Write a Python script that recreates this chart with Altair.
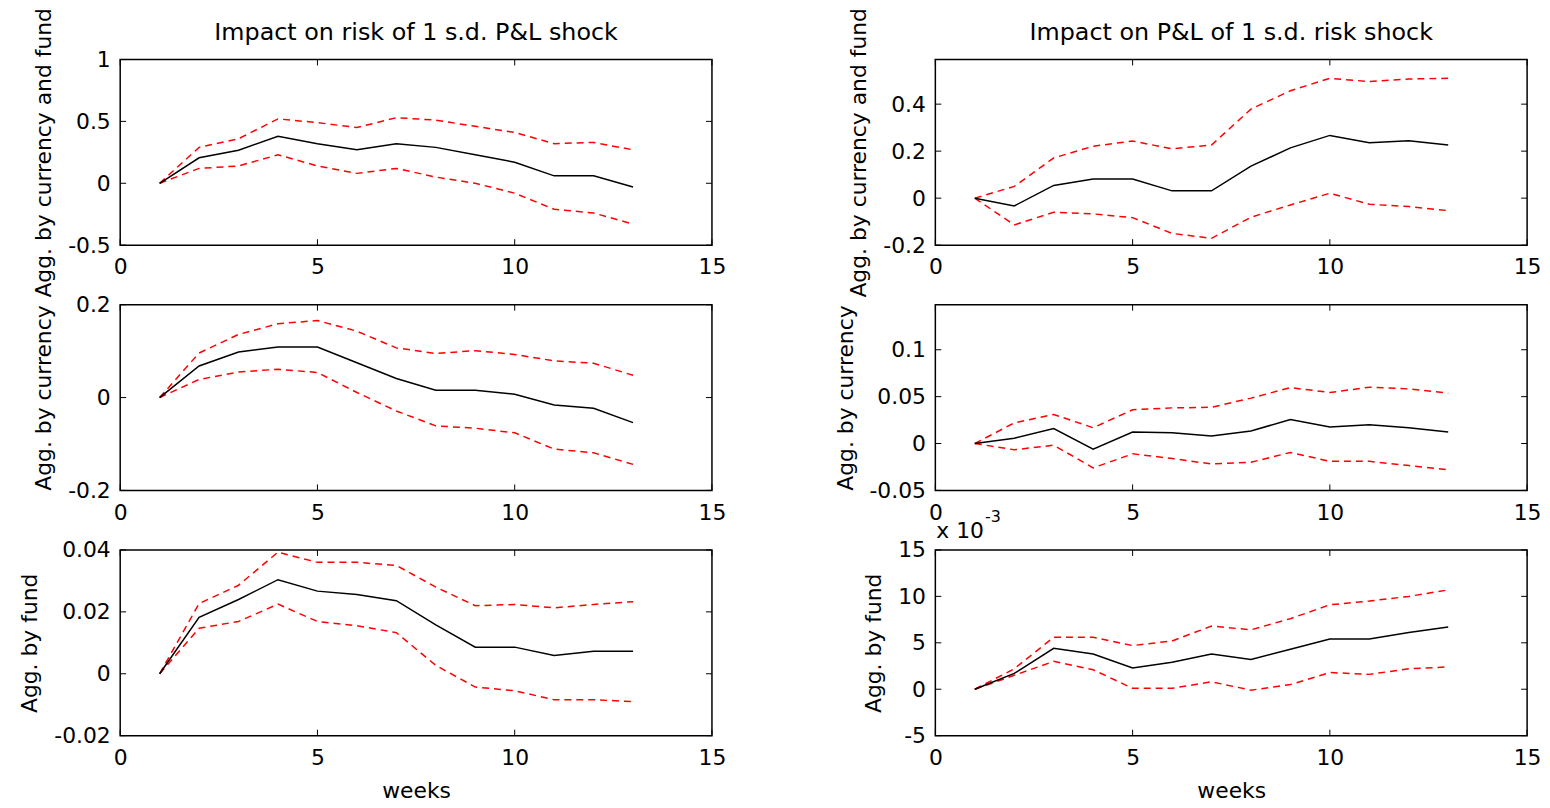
import altair as alt
import pandas as pd

weeks = list(range(1, 14))
x_ticks = [0, 5, 10, 15]

# Left column: Impact on risk of 1 s.d. P&L shock
l1_est = [0, 0.206, 0.267, 0.38, 0.32, 0.27, 0.32, 0.29, 0.23, 0.17, 0.06, 0.06, -0.03]
l1_up = [0, 0.29, 0.36, 0.52, 0.49, 0.45, 0.53, 0.51, 0.46, 0.41, 0.32, 0.33, 0.27]
l1_lo = [0, 0.12, 0.14, 0.23, 0.14, 0.08, 0.12, 0.05, 0.0, -0.08, -0.21, -0.24, -0.33]

l2_est = [0, 0.068, 0.098, 0.109, 0.109, 0.075, 0.041, 0.016, 0.016, 0.007, -0.016, -0.023, -0.054]
l2_up = [0, 0.096, 0.136, 0.159, 0.166, 0.143, 0.107, 0.095, 0.101, 0.093, 0.079, 0.074, 0.048]
l2_lo = [0, 0.039, 0.055, 0.061, 0.054, 0.011, -0.029, -0.061, -0.066, -0.076, -0.111, -0.119, -0.144]

l3_est = [0, 0.0182, 0.024, 0.0304, 0.0267, 0.0256, 0.0236, 0.0158, 0.0086, 0.0086, 0.0059, 0.0073, 0.0073]
l3_up = [0, 0.0227, 0.0286, 0.0393, 0.036, 0.036, 0.035, 0.028, 0.022, 0.0224, 0.0213, 0.0224, 0.0233]
l3_lo = [0, 0.0147, 0.0169, 0.0225, 0.0169, 0.0155, 0.0133, 0.0027, -0.0043, -0.0055, -0.0084, -0.0084, -0.009]

# Right column: Impact on P&L of 1 s.d. risk shock
r1_est = [0, -0.033, 0.054, 0.081, 0.081, 0.031, 0.031, 0.136, 0.214, 0.267, 0.236, 0.244, 0.226]
r1_up = [0, 0.05, 0.171, 0.221, 0.243, 0.21, 0.226, 0.379, 0.457, 0.51, 0.496, 0.507, 0.51]
r1_lo = [0, -0.114, -0.06, -0.067, -0.083, -0.15, -0.171, -0.081, -0.029, 0.021, -0.026, -0.036, -0.053]

r2_est = [0, 0.0056, 0.016, -0.006, 0.0123, 0.0116, 0.008, 0.0133, 0.0256, 0.0175, 0.020, 0.0168, 0.0123]
r2_up = [0, 0.022, 0.031, 0.0168, 0.036, 0.038, 0.0386, 0.0484, 0.0596, 0.0544, 0.060, 0.0582, 0.0537]
r2_lo = [0, -0.0067, -0.0018, -0.026, -0.011, -0.016, -0.0218, -0.020, -0.0095, -0.019, -0.019, -0.0235, -0.028]

# values in units of 1e-3
r3_est = [0, 1.7, 4.4, 3.8, 2.3, 2.9, 3.8, 3.2, 4.3, 5.4, 5.4, 6.1, 6.7]
r3_up = [0, 2.2, 5.6, 5.6, 4.7, 5.2, 6.8, 6.4, 7.6, 9.1, 9.5, 10.0, 10.7]
r3_lo = [0, 1.5, 3.0, 2.1, 0.1, 0.1, 0.8, -0.1, 0.5, 1.8, 1.6, 2.2, 2.4]

titles = ["Impact on risk of 1 s.d. P&L shock", "Impact on P&L of 1 s.d. risk shock"]
row_titles = ["Agg. by currency and fund", "Agg. by currency", "Agg. by fund"]

W = 596
H = 187
TL = 6
FONT = "DejaVu Sans"


def label(text, x, y, size, align="left"):
    return alt.Chart(pd.DataFrame({"t": [text]})).mark_text(
        align=align, baseline="alphabetic", font=FONT, fontSize=size, color="black"
    ).encode(text="t:N", x=alt.value(x), y=alt.value(y))


def panel(est, up, lo, ydom, yticks, ytitle, title=None, xtitle=None, scale_note=False):
    n = len(weeks)
    df = pd.DataFrame({
        "week": weeks * 3,
        "value": est + up + lo,
        "series": ["est"] * n + ["upper"] * n + ["lower"] * n,
    })
    xs = alt.Scale(domain=[0, 15], nice=False, zero=False)
    ys = alt.Scale(domain=ydom, nice=False, zero=False)
    xax = alt.Axis(values=x_ticks, title=xtitle if xtitle else None, titlePadding=12, labelPadding=12)
    yax = alt.Axis(values=yticks, title=ytitle, titlePadding=12, labelPadding=10)
    x = alt.X("week:Q", scale=xs, axis=xax)
    y = alt.Y("value:Q", scale=ys, axis=yax)
    base = alt.Chart(df)
    bands = base.transform_filter("datum.series != 'est'").mark_line(
        color="#ff0000", strokeDash=[7, 5], strokeWidth=1.5, clip=True
    ).encode(x=x, y=y, detail="series:N")
    line = base.transform_filter("datum.series == 'est'").mark_line(
        color="black", strokeWidth=1.5, clip=True
    ).encode(x=x, y=y)

    xt = pd.DataFrame({"week": x_ticks})
    yt = pd.DataFrame({"value": yticks})
    xb = alt.Chart(xt).mark_rule(color="black", strokeWidth=1).encode(
        x=x, y=alt.value(H - TL), y2=alt.value(H))
    xtop = alt.Chart(xt).mark_rule(color="black", strokeWidth=1).encode(
        x=x, y=alt.value(0), y2=alt.value(TL))
    yl = alt.Chart(yt).mark_rule(color="black", strokeWidth=1).encode(
        y=y, x=alt.value(0), x2=alt.value(TL))
    yr = alt.Chart(yt).mark_rule(color="black", strokeWidth=1).encode(
        y=y, x=alt.value(W - TL), x2=alt.value(W))

    layers = [bands, line, xb, xtop, yl, yr]
    if title:
        layers.append(label(title, W / 2, -20, 24, align="center"))
    if scale_note:
        layers += [label("x 10", 1, -12, 22), label("-3", 50, -28, 16)]
    return alt.layer(*layers).properties(width=W, height=H)


charts = [
    panel(l1_est, l1_up, l1_lo, [-0.5, 1], [-0.5, 0, 0.5, 1], row_titles[0], title=titles[0]),
    panel(r1_est, r1_up, r1_lo, [-0.2, 0.59], [-0.2, 0, 0.2, 0.4], row_titles[0], title=titles[1]),
    panel(l2_est, l2_up, l2_lo, [-0.2, 0.2], [-0.2, 0, 0.2], row_titles[1]),
    panel(r2_est, r2_up, r2_lo, [-0.05, 0.148], [-0.05, 0, 0.05, 0.1], row_titles[1]),
    panel(l3_est, l3_up, l3_lo, [-0.02, 0.04], [-0.02, 0, 0.02, 0.04], row_titles[2], xtitle="weeks"),
    panel(r3_est, r3_up, r3_lo, [-5, 15], [-5, 0, 5, 10, 15], row_titles[2], xtitle="weeks", scale_note=True),
]

chart = alt.concat(
    *charts, columns=2, spacing={"row": 60, "column": 225}, bounds="flush"
).properties(
    padding={"left": 10, "top": -5, "right": 0, "bottom": 0}
).configure(
    background="white"
).configure_view(
    stroke="black", strokeWidth=1.5
).configure_axis(
    labelFont=FONT, labelFontSize=22, labelColor="black",
    titleFont=FONT, titleFontSize=22, titleFontWeight="normal", titleColor="black",
    ticks=False, domain=False, grid=False,
    labelFlush=False, labelOverlap=False, labelExpr="'' + datum.value"
)

chart.save("out.html", embed_options={"renderer": "svg", "actions": False})
